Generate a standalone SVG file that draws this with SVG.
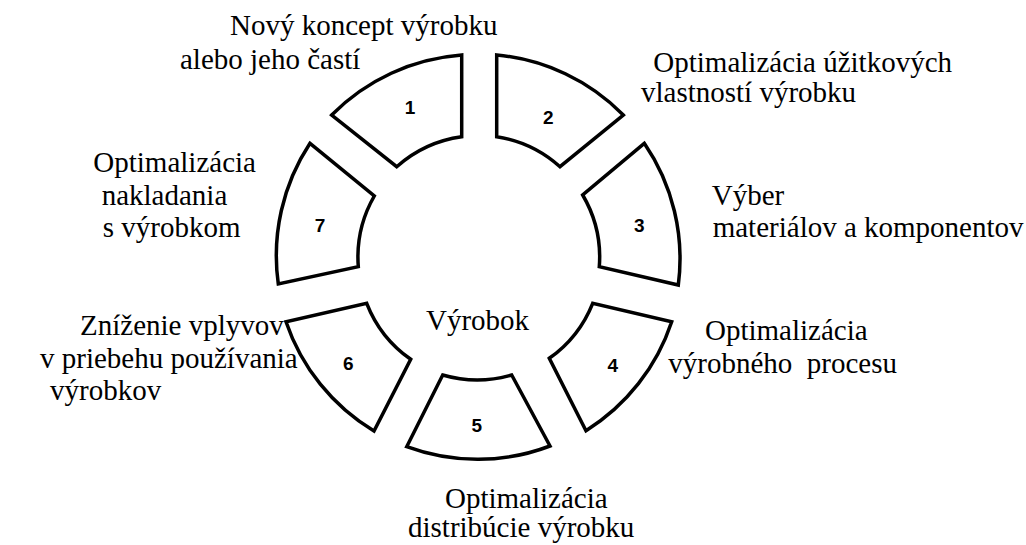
<svg xmlns="http://www.w3.org/2000/svg" width="1026" height="545" viewBox="0 0 1026 545">
<style>
.seg{fill:#fff;stroke:#000;stroke-width:3.5;stroke-linejoin:miter}
.num{font-weight:bold;font-size:19px;text-anchor:middle;fill:#000}
.lbl{font-size:29px;fill:#000}
</style>
<rect width="1026" height="545" fill="#fff"/>
<g id="segments" font-family="Liberation Sans, Arial, sans-serif">
<g id="seg1"><path class="seg" d="M461.7,55 L461.7,136.7 A123,123 0 0 0 396.7,166.7 L331.7,115 A204,204 0 0 1 461.7,55 Z"/><text class="num" x="410" y="113.5">1</text></g>
<g id="seg2"><path class="seg" d="M496.7,55 A204,204 0 0 1 623.3,115 L560,166.7 A123,123 0 0 0 496.7,136.7 Z"/><text class="num" x="548.3" y="123.5">2</text></g>
<g id="seg3"><path class="seg" d="M644.3,143.3 A204,204 0 0 1 678.3,285 L599.3,266.7 A123,123 0 0 0 582.7,195 Z"/><text class="num" x="639.3" y="231.5">3</text></g>
<g id="seg4"><path class="seg" d="M671.7,321.7 A204,204 0 0 1 586,430.7 L549.3,358.3 A123,123 0 0 0 592.7,303.3 Z"/><text class="num" x="612.7" y="371.5">4</text></g>
<g id="seg5"><path class="seg" d="M550,446 A204,204 0 0 1 406.7,446.7 L442.7,375 A123,123 0 0 0 511.7,375 Z"/><text class="num" x="476.7" y="431.5">5</text></g>
<g id="seg6"><path class="seg" d="M374,431 A204,204 0 0 1 286,321.7 L366.7,303.3 A123,123 0 0 0 410.7,359.3 Z"/><text class="num" x="348.3" y="369.5">6</text></g>
<g id="seg7"><path class="seg" d="M278.3,284 A204,204 0 0 1 310,143.3 L374.3,196 A123,123 0 0 0 358.3,266.7 Z"/><text class="num" x="320" y="231.5">7</text></g>
</g>
<g id="connectors"></g>
<g id="labels" font-family="Liberation Serif, Times New Roman, DejaVu Serif, serif">
<text id="center" class="lbl" x="426" y="330">Výrobok</text>
<text class="lbl" x="230" y="35">Nový koncept výrobku</text>
<text class="lbl" x="180" y="68.5">alebo jeho častí</text>
<text class="lbl" x="653.3" y="71.7">Optimalizácia úžitkových</text>
<text class="lbl" x="641" y="101.7">vlastností výrobku</text>
<text class="lbl" x="711.7" y="205">Výber</text>
<text class="lbl" x="712.7" y="236.7">materiálov a komponentov</text>
<text class="lbl" x="705" y="340">Optimalizácia</text>
<text class="lbl" x="668.3" y="373.3" xml:space="preserve">výrobného  procesu</text>
<text class="lbl" x="445" y="507.5">Optimalizácia</text>
<text class="lbl" x="408" y="537">distribúcie výrobku</text>
<text class="lbl" x="80" y="335">Zníženie vplyvov</text>
<text class="lbl" x="40" y="368.3">v priebehu používania</text>
<text class="lbl" x="50" y="400">výrobkov</text>
<text class="lbl" x="93.3" y="171.7">Optimalizácia</text>
<text class="lbl" x="101.7" y="205">nakladania</text>
<text class="lbl" x="102.7" y="237.3">s výrobkom</text>
</g>
</svg>
